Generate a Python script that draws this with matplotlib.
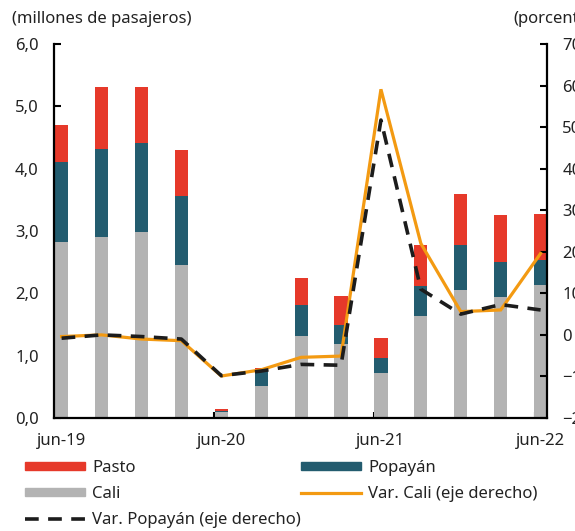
import matplotlib
matplotlib.use("Agg")
import matplotlib.pyplot as plt
import numpy as np
from matplotlib.patches import Patch
from matplotlib.lines import Line2D

plt.rcParams['font.family'] = ['Noto Sans', 'DejaVu Sans']

periodos = ['jun-19', 'sep-19', 'dic-19', 'mar-20', 'jun-20', 'sep-20', 'dic-20',
            'mar-21', 'jun-21', 'sep-21', 'dic-21', 'mar-22', 'jun-22']
cali = [2.82, 2.90, 2.98, 2.45, 0.09, 0.52, 1.32, 1.19, 0.72, 1.64, 2.06, 1.94, 2.14]
popayan = [1.28, 1.42, 1.43, 1.11, 0.03, 0.25, 0.49, 0.31, 0.25, 0.48, 0.72, 0.57, 0.39]
pasto = [0.60, 0.99, 0.90, 0.74, 0.02, 0.04, 0.43, 0.45, 0.31, 0.66, 0.82, 0.74, 0.74]
var_cali = [-0.4, 0.0, -1.0, -1.4, -9.9, -8.4, -5.4, -5.1, 59.1, 22.0, 5.6, 6.0, 19.6]
var_popayan = [-0.8, 0.0, -0.4, -1.0, -9.8, -8.7, -7.1, -7.3, 51.7, 11.0, 5.0, 7.3, 6.0]
etiquetas_x = ['jun-19', 'jun-20', 'jun-21', 'jun-22']

c_pasto = '#E6392A'
c_pop = '#235C6F'
c_cali = '#B3B3B3'
c_var_cali = '#F39A12'
fs = 12

fig = plt.figure(figsize=(5.75, 5.31), dpi=100)
ax = fig.add_axes([54 / 575, 1 - 418 / 531, 493 / 575, 374 / 531])
x = np.arange(len(periodos))
w = 0.33

cali_a = np.array(cali)
pop_a = np.array(popayan)
ax.bar(x, cali, w, color=c_cali, zorder=2)
ax.bar(x, popayan, w, bottom=cali_a, color=c_pop, zorder=2)
ax.bar(x, pasto, w, bottom=cali_a + pop_a, color=c_pasto, zorder=2)

ax.set_xlim(-0.19, 12.16)
ax.set_ylim(0, 6)
ax.set_yticks(np.arange(0, 6.1, 1))
ax.set_yticklabels([f"{v:.1f}".replace('.', ',') for v in np.arange(0, 6.1, 1)])
ax.set_xticks([0, 4, 8, 12])
ax.set_xticklabels(etiquetas_x)
ax.set_xticks([-0.17, 3.81, 7.83, 11.86], minor=True)
ax.tick_params(axis='x', which='major', length=0, pad=11, labelsize=fs, colors='#222222')
ax.tick_params(axis='x', which='minor', direction='in', length=4, width=1.5)
ax.tick_params(axis='y', direction='in', length=5, width=1.5, pad=11, labelsize=fs,
               labelcolor='#222222')
for s in ['top', 'right']:
    ax.spines[s].set_visible(False)
for s in ['left', 'bottom']:
    ax.spines[s].set_linewidth(1.6)

ax2 = ax.twinx()
ax2.plot(x, var_cali, color=c_var_cali, lw=2.3, zorder=3, solid_joinstyle='miter')
ax2.plot(x, var_popayan, color='#1c1c1c', lw=2.6, dashes=(3.8, 2.6), zorder=4)
ax2.set_ylim(-20, 70)
ax2.set_yticks(np.arange(-20, 71, 10))
ax2.tick_params(axis='y', direction='in', length=5, width=1.5, pad=11, labelsize=fs,
                labelcolor='#222222')
for s in ['top', 'left', 'bottom']:
    ax2.spines[s].set_visible(False)
ax2.spines['right'].set_linewidth(1.6)

fig.text(12 / 575, 1 - 19 / 531, '(millones de pasajeros)', fontsize=fs,
         color='#222222', va='center', ha='left')
fig.text(513 / 575, 1 - 19 / 531, '(porcentaje)', fontsize=fs,
         color='#222222', va='center', ha='left')

leg_kw = dict(frameon=False, fontsize=fs, handlelength=3.6, handleheight=0.4,
              handletextpad=0.42, labelspacing=0.6, borderpad=0, borderaxespad=0,
              loc='upper left', labelcolor='#222222')
h1 = [Patch(color=c_pasto), Patch(color=c_cali),
      Line2D([], [], color='#1c1c1c', lw=2.6, dashes=(3.8, 2.6))]
fig.legend(h1, ['Pasto', 'Cali', 'Var. Popayán (eje derecho)'],
           bbox_to_anchor=(25 / 575, 1 - 460 / 531), **leg_kw)
h2 = [Patch(color=c_pop), Line2D([], [], color=c_var_cali, lw=2.3)]
fig.legend(h2, ['Popayán', 'Var. Cali (eje derecho)'],
           bbox_to_anchor=(301 / 575, 1 - 460 / 531), **leg_kw)

fig.savefig('out.png', dpi=100)
